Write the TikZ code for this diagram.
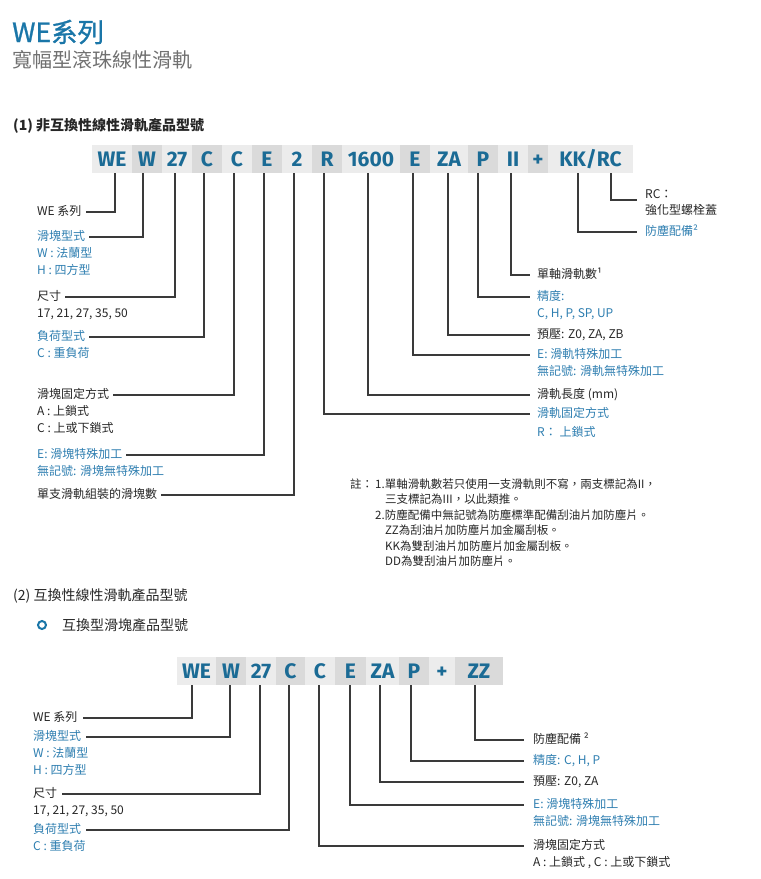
\documentclass[tikz,border=0pt]{standalone}
\usepackage{fontspec}
\setmainfont{Noto Sans CJK TC}
\newfontfamily\codefont{Fira Sans}
\newfontfamily\titlefont[FakeBold=1]{Noto Sans CJK TC}
\definecolor{codeblue}{HTML}{1B6B95}
\definecolor{lblue}{HTML}{2E7EB0}
\definecolor{ink}{HTML}{262626}
\definecolor{linegray}{HTML}{3A3A3A}
\definecolor{boxlight}{HTML}{ECECEC}
\definecolor{boxdark}{HTML}{DADADA}
\definecolor{titleblue}{HTML}{1A76A8}
\definecolor{subgray}{HTML}{707070}
\tikzset{
  cb/.style={inner sep=0pt, minimum height=28pt, text=codeblue, text height=15pt, text depth=0pt,
    font=\codefont\bfseries\fontsize{21}{21}\selectfont},
  lt/.style={fill=boxlight},
  dk/.style={fill=boxdark},
  lab/.style={inner sep=0pt, anchor=west, font=\fontsize{12}{14}\selectfont, text height=9pt, text depth=2.5pt},
  blab/.style={lab, text=lblue},
  klab/.style={lab, text=ink},
  note/.style={inner sep=0pt, anchor=west, text=ink, font=\fontsize{11.5}{13}\selectfont, text height=9pt, text depth=2.5pt},
  ln/.style={draw=linegray, line width=1.1pt},
}
\begin{document}
\begin{tikzpicture}[x=1pt,y=-1pt]
\useasboundingbox (0,0) rectangle (761,879);
% header
\node[anchor=base west, inner sep=0pt, text=titleblue, font=\titlefont\fontsize{26.5}{26.5}\selectfont] (title) at (12,42) {WE系列};
\node[anchor=base west, inner sep=0pt, text=subgray, font=\fontsize{20}{20}\selectfont] (subtitle) at (12,67) {寬幅型滾珠線性滑軌};
\node[anchor=base west, inner sep=0pt, text=ink, font=\bfseries\fontsize{14}{14}\selectfont] (h1) at (13,130) {(1) 非互換性線性滑軌產品型號};
% row 1 codes
\node[cb,lt,minimum width=40pt] (b1) at (112,159) {WE};
\node[cb,dk,minimum width=30pt] (b2) at (147,159) {W};
\node[cb,lt,minimum width=30pt] (b3) at (177,159) {27};
\node[cb,dk,minimum width=30pt] (b4) at (207,159) {C};
\node[cb,lt,minimum width=30pt] (b5) at (237,159) {C};
\node[cb,dk,minimum width=30pt] (b6) at (267,159) {E};
\node[cb,lt,minimum width=30pt] (b7) at (297,159) {2};
\node[cb,dk,minimum width=30pt] (b8) at (327,159) {R};
\node[cb,lt,minimum width=58pt] (b9) at (371,159) {1600};
\node[cb,dk,minimum width=30pt] (b10) at (415,159) {E};
\node[cb,lt,minimum width=38pt] (b11) at (449,159) {ZA};
\node[cb,dk,minimum width=30pt] (b12) at (483,159) {P};
\node[cb,lt,minimum width=30pt] (b13) at (513,159) {II};
\node[cb,dk,minimum width=20pt] (b14) at (538,159) {+};
\node[cb,lt,minimum width=85pt] (b15) at (590.5,159) {KK/RC};
% row 1 left labels
\node[klab] (l1) at (37,212) {WE 系列};
\node[blab] (l2) at (37,237) {滑塊型式};
\node[blab] (l2a) at (37,254) {W : 法蘭型};
\node[blab] (l2b) at (37,271) {H : 四方型};
\node[klab] (l3) at (37,297) {尺寸};
\node[klab] (l3a) at (37,314) {17, 21, 27, 35, 50};
\node[blab] (l4) at (37,337) {負荷型式};
\node[blab] (l4a) at (37,354) {C : 重負荷};
\node[klab] (l5) at (37,395) {滑塊固定方式};
\node[klab] (l5a) at (37,412) {A : 上鎖式};
\node[klab] (l5b) at (37,429) {C : 上或下鎖式};
\node[blab] (l6) at (37,455) {E: 滑塊特殊加工};
\node[blab] (l6a) at (37,472) {無記號: 滑塊無特殊加工};
\node[klab] (l7) at (37,495) {單支滑軌組裝的滑塊數};
\draw[ln] ([xshift=3pt]b1.south) |- ([xshift=4pt]l1.east);
\draw[ln] ([xshift=-4pt]b2.south) |- ([xshift=4pt]l2.east);
\draw[ln] ([xshift=-2pt]b3.south) |- ([xshift=4pt]l3.east);
\draw[ln] ([xshift=-3pt]b4.south) |- ([xshift=4pt]l4.east);
\draw[ln] ([xshift=-3pt]b5.south) |- ([xshift=4pt]l5.east);
\draw[ln] ([xshift=-3pt]b6.south) |- ([xshift=4pt]l6.east);
\draw[ln] ([xshift=-3pt]b7.south) |- ([xshift=4pt]l7.east);
% row 1 right labels
\node[klab] (r1) at (537,275) {單軸滑軌數¹};
\node[blab] (r2) at (537,297) {精度:};
\node[blab] (r2a) at (537,314) {C, H, P, SP, UP};
\node[klab] (r3) at (537,335) {預壓: Z0, ZA, ZB};
\node[blab] (r4) at (537,355) {E: 滑軌特殊加工};
\node[blab] (r4a) at (537,372) {無記號: 滑軌無特殊加工};
\node[klab] (r5) at (537,395) {滑軌長度 (mm)};
\node[blab] (r6) at (537,414) {滑軌固定方式};
\node[blab] (r6a) at (537,433) {R： 上鎖式};
\node[klab] (r7) at (645,195) {RC：};
\node[klab] (r7a) at (645,211) {強化型螺栓蓋};
\node[blab] (r8) at (645,232) {防塵配備²};
\draw[ln] ([xshift=-2pt]b13.south) |- ([xshift=-7pt]r1.west);
\draw[ln] ([xshift=-5pt]b12.south) |- ([xshift=-7pt]r2.west);
\draw[ln] ([xshift=-1pt]b11.south) |- ([xshift=-7pt]r3.west);
\draw[ln] ([xshift=-2pt]b10.south) |- ([xshift=-7pt]r4.west);
\draw[ln] ([xshift=-3pt]b9.south) |- ([xshift=-7pt]r5.west);
\draw[ln] ([xshift=-3pt]b8.south) |- ([xshift=-7pt]r6.west);
\draw[ln] ([xshift=20.5pt]b15.south) |- ([xshift=-8pt,yshift=-5pt]r7.west);
\draw[ln] ([xshift=-12.5pt]b15.south) |- ([xshift=-8pt]r8.west);
% notes
\node[note] (n0) at (350,485) {註：};
\node[note] (n1) at (375,485) {1.單軸滑軌數若只使用一支滑軌則不寫，兩支標記為II，};
\node[note] (n1a) at (385,500) {三支標記為III，以此類推。};
\node[note] (n2) at (375,516) {2.防塵配備中無記號為防塵標準配備刮油片加防塵片。};
\node[note] (n2a) at (385,531) {ZZ為刮油片加防塵片加金屬刮板。};
\node[note] (n2b) at (385,547) {KK為雙刮油片加防塵片加金屬刮板。};
\node[note] (n2c) at (385,562) {DD為雙刮油片加防塵片。};
% section 2
\node[anchor=base west, inner sep=0pt, text=ink, font=\fontsize{14}{14}\selectfont] (h2) at (13,600) {(2) 互換性線性滑軌產品型號};
\node[draw=titleblue, line width=2pt, circle, minimum size=8pt, inner sep=0pt] (bul) at (42,625) {};
\node[anchor=base west, inner sep=0pt, text=ink, font=\fontsize{14}{14}\selectfont] (h3) at (62,630) {互換型滑塊產品型號};
\node[cb,lt,minimum width=39pt] (c1) at (196.5,671) {WE};
\node[cb,dk,minimum width=30pt] (c2) at (231,671) {W};
\node[cb,lt,minimum width=30pt] (c3) at (261,671) {27};
\node[cb,dk,minimum width=29pt] (c4) at (290.5,671) {C};
\node[cb,lt,minimum width=30pt] (c5) at (320,671) {C};
\node[cb,dk,minimum width=31pt] (c6) at (350.5,671) {E};
\node[cb,lt,minimum width=33pt] (c7) at (382.5,671) {ZA};
\node[cb,dk,minimum width=30pt] (c8) at (414,671) {P};
\node[cb,lt,minimum width=26pt] (c9) at (442,671) {+};
\node[cb,dk,minimum width=48pt] (c10) at (479,671) {ZZ};
\node[klab] (s1) at (33,718) {WE 系列};
\node[blab] (s2) at (33,737) {滑塊型式};
\node[blab] (s2a) at (33,754) {W : 法蘭型};
\node[blab] (s2b) at (33,771) {H : 四方型};
\node[klab] (s3) at (33,794) {尺寸};
\node[klab] (s3a) at (33,811) {17, 21, 27, 35, 50};
\node[blab] (s4) at (33,830) {負荷型式};
\node[blab] (s4a) at (33,847) {C : 重負荷};
\draw[ln] ([xshift=-4.5pt]c1.south) |- ([xshift=5pt]s1.east);
\draw[ln] ([xshift=-1pt]c2.south) |- ([xshift=5pt]s2.east);
\draw[ln] ([xshift=-1pt]c3.south) |- ([xshift=5pt]s3.east);
\draw[ln] ([xshift=-1.5pt]c4.south) |- ([xshift=5pt]s4.east);
\node[klab] (t1) at (533,740) {防塵配備 ²};
\node[blab] (t2) at (533,761) {精度:  C, H, P};
\node[klab] (t3) at (533,782) {預壓:  Z0, ZA};
\node[blab] (t4) at (533,805) {E: 滑塊特殊加工};
\node[blab] (t4a) at (533,822) {無記號: 滑塊無特殊加工};
\node[klab] (t5) at (533,846) {滑塊固定方式};
\node[klab] (t5a) at (533,863) {A : 上鎖式 ,  C : 上或下鎖式};
\draw[ln] ([xshift=-4pt]c10.south) |- ([xshift=-9pt]t1.west);
\draw[ln] ([xshift=-3pt]c8.south) |- ([xshift=-9pt]t2.west);
\draw[ln] ([xshift=-2.5pt]c7.south) |- ([xshift=-9pt]t3.west);
\draw[ln] ([xshift=-0.5pt]c6.south) |- ([xshift=-9pt]t4.west);
\draw[ln] ([xshift=-1pt]c5.south) |- ([xshift=-9pt]t5.west);
\end{tikzpicture}
\end{document}
